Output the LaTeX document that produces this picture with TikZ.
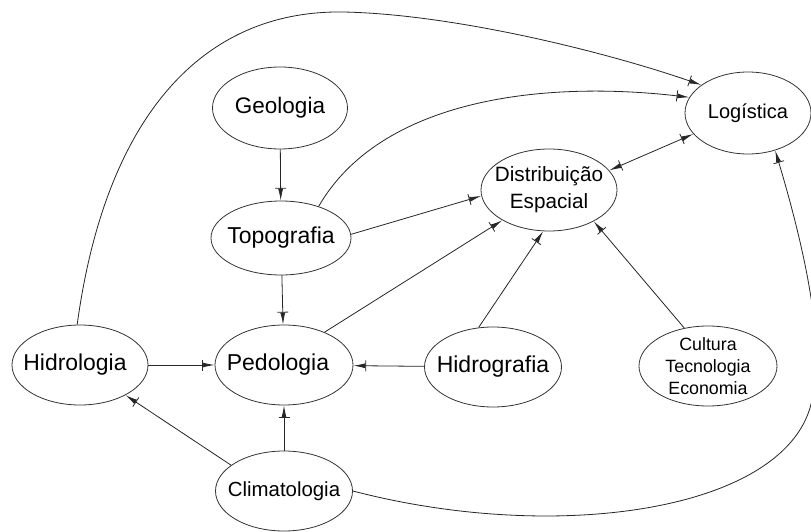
\documentclass[tikz,border=0pt]{standalone}
\usepackage{fontspec}
\setmainfont{Liberation Sans}
\usetikzlibrary{shapes.geometric,arrows.meta}

\newcommand{\fs}[1]{\fontsize{#1}{#1}\selectfont}

\tikzset{
  ell/.style 2 args={ellipse, draw=black!80, line width=0.8pt, inner sep=0pt,
    minimum width=#1pt, minimum height=#2pt},
  link/.style={line width=0.8pt, draw=black!85,
    -{Bar[width=11pt,sep=0pt]Latex[length=12pt,width=5pt,sep=0pt]}},
  link2/.style={line width=0.8pt, draw=black!85,
    {Latex[length=12pt,width=5pt,sep=0pt]Bar[width=11pt,sep=0pt]}-{Bar[width=11pt,sep=0pt]Latex[length=12pt,width=5pt,sep=0pt]}},
}

\begin{document}
\begin{tikzpicture}[x=1pt,y=-1pt]
\useasboundingbox (0,0) rectangle (811,532);
\fill[white] (0,0) rectangle (811,532);

% concepts
\node[ell={135}{82}, label={center:\fs{22.5}Geologia}] (geo) at (280,108) {};
\node[ell={140}{74}, label={center:\fs{23}Topografia}] (topo) at (281,238) {};
\node[ell={138}{80}, label={[xshift=-6pt]center:\fs{23}Pedologia}] (pedo) at (284,365) {};
\node[ell={136}{80}, label={[xshift=-5pt]center:\fs{22.9}Hidrologia}] (hidrol) at (80,365) {};
\node[ell={137}{80}, label={center:\fs{20.4}Climatologia}] (clim) at (284,491) {};
\node[ell={137}{80}, label={center:\fs{23}Hidrografia}] (hidrog) at (493,367) {};
\node[ell={138}{80}, label={[align=center,font=\fontsize{17.8}{22}\selectfont]center:Cultura\\Tecnologia\\Economia}] (cult) at (708,366) {};
\node[ell={136}{82}, label={[align=center,font=\fontsize{20.7}{27}\selectfont]center:Distribuição\\Espacial}] (dist) at (549,190) {};
\node[ell={126}{82}, label={center:\fs{20}Logística}] (log) at (748,113) {};

% straight links
\draw[link] (geo) -- (topo);
\draw[link] (topo) -- (pedo);
\draw[link] (clim) -- (pedo);
\draw[link] (hidrol) -- (pedo);
\draw[link] (hidrog) -- (pedo);
\draw[link] (clim.154) -- (hidrol);
\draw[link] (topo.3) -- (dist.185);
\draw[link] (pedo.39) -- (dist.213);
\draw[link] (hidrog.110) -- (dist.262);
\draw[link] (cult.122) -- (dist.325);
\draw[link2] (dist.18) -- (log.201);

% curved links towards Logística
\draw[link] (topo.40) .. controls (380,100) and (540,80) .. (log.165);
\draw[link] (hidrol.94) .. controls (105,120) and (200,10) .. (343,12)
  .. controls (450,14) and (600,50) .. (log.149);
\draw[link] (clim.0) .. controls (560,545) and (790,510) .. (812,400)
  .. controls (825,350) and (808,260) .. (log.306);
\end{tikzpicture}
\end{document}
